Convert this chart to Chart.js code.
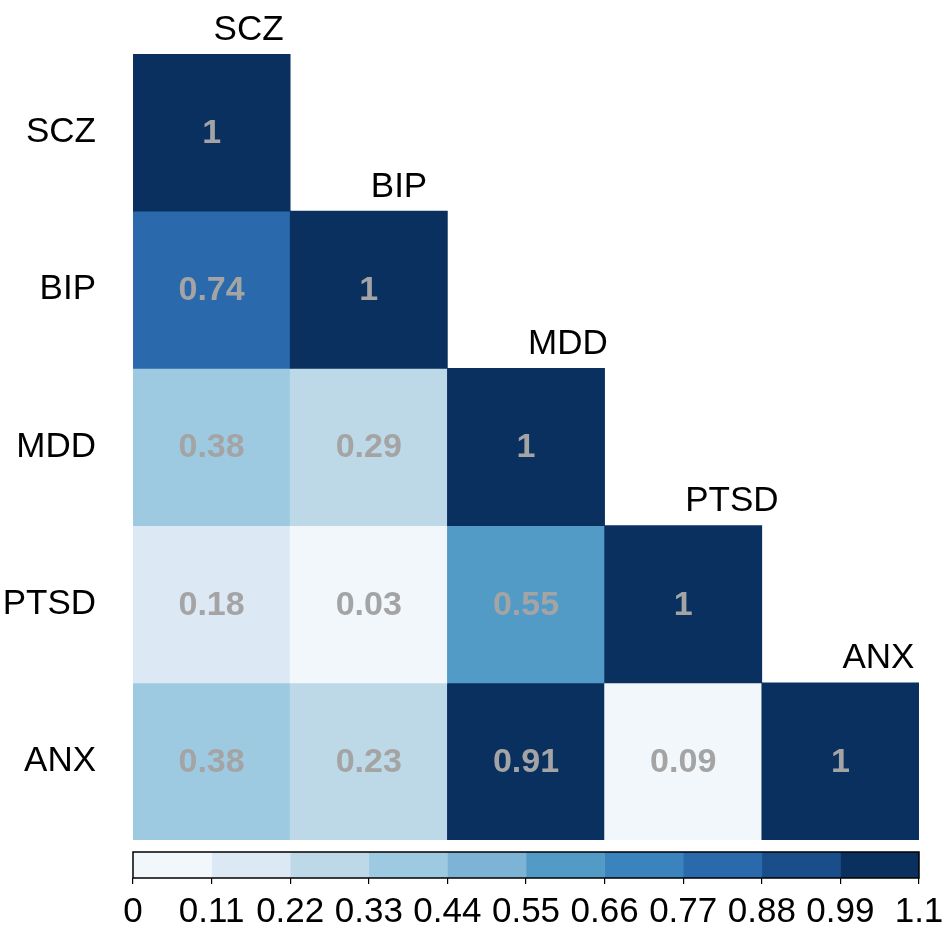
<!DOCTYPE html>
<html>
<head>
<meta charset="utf-8">
<title>Genetic correlation heatmap</title>
<script src="https://cdn.jsdelivr.net/npm/chart.js@4.4.1/dist/chart.umd.min.js"></script>
<style>
  html, body { margin: 0; padding: 0; background: #ffffff; }
  #wrap { position: relative; width: 947px; height: 930px; overflow: hidden; }
  #heat { position: absolute; left: 0; top: 0; }
  #bar  { position: absolute; left: 0; top: 845px; }
</style>
</head>
<body>
<div id="wrap">
  <canvas id="heat" width="947" height="845"></canvas>
  <canvas id="bar" width="947" height="85"></canvas>
</div>
<script>
// Disorders, in row/column order
const disorders = ['SCZ', 'BIP', 'MDD', 'PTSD', 'ANX'];

// Lower-triangle correlations, one array per row (diagonal included)
const rowSCZ  = [1];
const rowBIP  = [0.74, 1];
const rowMDD  = [0.38, 0.29, 1];
const rowPTSD = [0.18, 0.03, 0.55, 1];
const rowANX  = [0.38, 0.23, 0.91, 0.09, 1];
const rows = [rowSCZ, rowBIP, rowMDD, rowPTSD, rowANX];

// Sequential blue palette, ten steps
const palette = ['#f2f7fc', '#dce9f5', '#bdd8e7', '#9ecae1', '#7db3d5',
                 '#529bc7', '#3b83bd', '#2a6aac', '#1a4e8a', '#09305f'];

// Colour key: bin edges and their tick labels
const keyEdges  = [0, 0.11, 0.22, 0.33, 0.44, 0.55, 0.66, 0.77, 0.88, 0.99, 1.1];
const keyLabels = ['0', '0.11', '0.22', '0.33', '0.44', '0.55', '0.66', '0.77', '0.88', '0.99', '1.1'];

const FONT = '"Liberation Sans", Arial, Helvetica, sans-serif';

function colorFor(v) {
  const i = Math.min(palette.length - 1, Math.max(0, Math.floor(v * 10 + 1e-9)));
  return palette[i];
}

// One floating-bar dataset per row; each bar spans [row, row + 1] on the y scale
const heatDatasets = rows.map((vals, r) => ({
  label: disorders[r],
  data: disorders.map((_, c) => (c < vals.length ? [r, r + 1] : null)),
  values: disorders.map((_, c) => (c < vals.length ? vals[c] : null)),
  backgroundColor: disorders.map((_, c) => (c < vals.length ? colorFor(vals[c]) : 'rgba(0,0,0,0)')),
  borderWidth: 0,
  barPercentage: 1,
  categoryPercentage: 1,
  grouped: false
}));

// Cell values, row names on the left and column names above the diagonal
const heatLabels = {
  id: 'heatLabels',
  afterDatasetsDraw(chart) {
    const ctx = chart.ctx;
    const x = chart.scales.x, y = chart.scales.y;
    ctx.save();
    ctx.textBaseline = 'middle';
    chart.data.datasets.forEach((ds, di) => {
      const meta = chart.getDatasetMeta(di);
      const rowMid = (y.getPixelForValue(di) + y.getPixelForValue(di + 1)) / 2;
      meta.data.forEach((el, ci) => {
        const v = ds.values[ci];
        if (v === null) return;
        ctx.font = 'bold 34px ' + FONT;
        ctx.fillStyle = '#a4a4a4';
        ctx.textAlign = 'center';
        ctx.fillText(String(v), el.x, rowMid + 1);
      });
      // row name
      ctx.font = '35px ' + FONT;
      ctx.fillStyle = '#000000';
      ctx.textAlign = 'right';
      ctx.fillText(disorders[di], 96, rowMid);
      // column name above the diagonal cell
      ctx.textAlign = 'left';
      ctx.fillText(disorders[di], x.getPixelForValue(di) + 2, y.getPixelForValue(di) - 24);
    });
    ctx.restore();
  }
};

new Chart(document.getElementById('heat'), {
  type: 'bar',
  data: { labels: disorders, datasets: heatDatasets },
  options: {
    responsive: false,
    animation: false,
    layout: { padding: { left: 133, right: 28, top: 54, bottom: 5 } },
    plugins: { legend: { display: false }, tooltip: { enabled: false } },
    scales: {
      x: { type: 'category', display: false, offset: true },
      y: { type: 'linear', display: false, min: 0, max: 5, reverse: true }
    }
  },
  plugins: [heatLabels]
});

// Colour key: one floating bar per bin along a 0–1.1 axis
const keyDatasets = palette.map((col, i) => ({
  data: [[keyEdges[i], keyEdges[i + 1]]],
  backgroundColor: col,
  borderWidth: 0,
  barPercentage: 1,
  categoryPercentage: 1,
  grouped: false
}));

const keyFrame = {
  id: 'keyFrame',
  afterDatasetsDraw(chart) {
    const a = chart.chartArea, ctx = chart.ctx;
    ctx.save();
    ctx.strokeStyle = '#000000';
    ctx.lineWidth = 1.5;
    ctx.strokeRect(a.left, a.top, a.right - a.left, a.bottom - a.top);
    ctx.restore();
  }
};

new Chart(document.getElementById('bar'), {
  type: 'bar',
  data: { labels: [''], datasets: keyDatasets },
  options: {
    indexAxis: 'y',
    responsive: false,
    animation: false,
    layout: { padding: { left: 133, right: 28, top: 7, bottom: 0 } },
    plugins: { legend: { display: false }, tooltip: { enabled: false } },
    scales: {
      y: { display: false },
      x: {
        type: 'linear',
        min: 0,
        max: 1.1,
        afterBuildTicks(scale) { scale.ticks = keyEdges.map(v => ({ value: v })); },
        afterFit(scale) {
          scale.height = 52;
          scale.paddingLeft = 0;
          scale.paddingRight = 0;
        },
        border: { display: false },
        grid: { drawOnChartArea: false, drawTicks: true, tickLength: 6, color: '#000000', lineWidth: 1.2 },
        ticks: {
          autoSkip: false,
          maxRotation: 0,
          padding: 7,
          color: '#000000',
          font: { family: FONT, size: 35 },
          callback: (val, i) => keyLabels[i]
        }
      }
    }
  },
  plugins: [keyFrame]
});
</script>
</body>
</html>
